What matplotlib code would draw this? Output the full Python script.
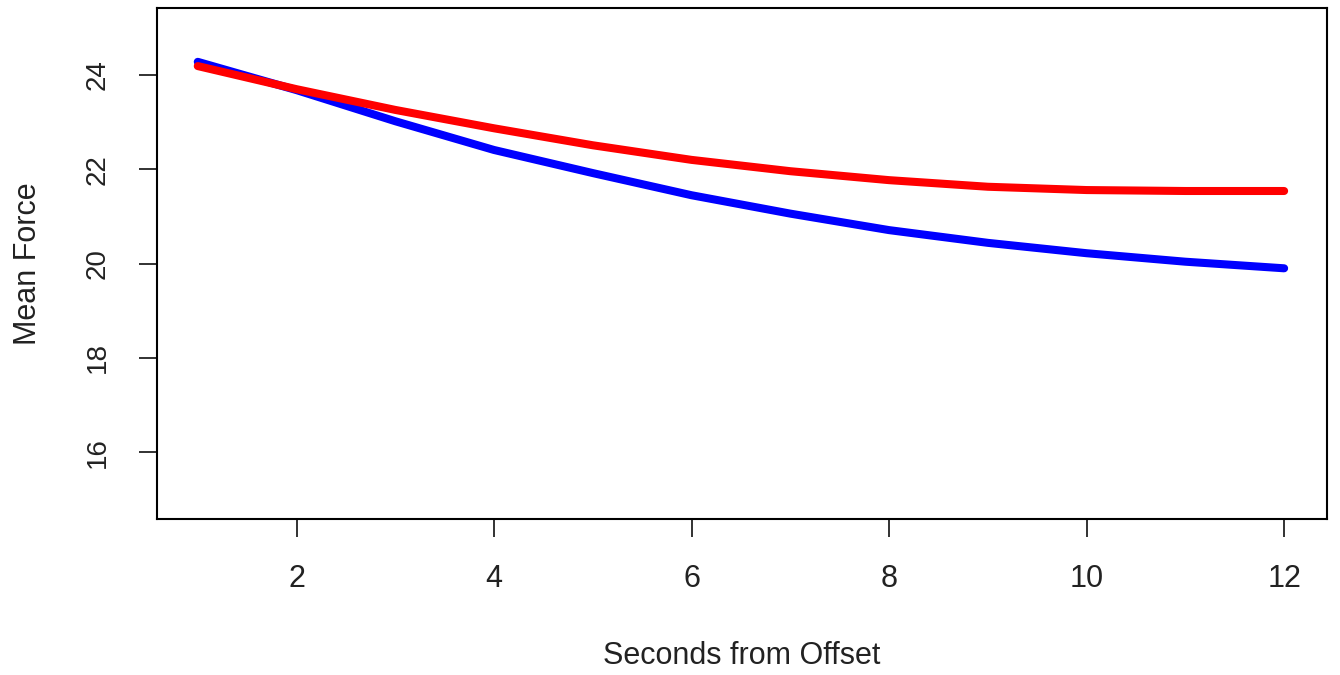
import matplotlib
matplotlib.use("Agg")
import matplotlib.pyplot as plt

# mean force per second after offset, two conditions
seconds = [1, 2, 3, 4, 5, 6, 7, 8, 9, 10, 11, 12]
force_blue = [24.28, 23.68, 23.02, 22.41, 21.92, 21.45, 21.06, 20.71, 20.44, 20.22, 20.04, 19.90]
force_red = [24.19, 23.70, 23.26, 22.87, 22.51, 22.20, 21.96, 21.77, 21.63, 21.56, 21.54, 21.54]
x_ticks = [2, 4, 6, 8, 10, 12]
y_ticks = [16, 18, 20, 22, 24]

plt.rcParams['font.family'] = ['Liberation Sans', 'DejaVu Sans']

fig = plt.figure(figsize=(13.4, 6.75), dpi=100)
ax = fig.add_axes([0.117, 0.231, 0.873, 0.757])

ax.plot(seconds, force_blue, color="#0000FF", linewidth=5.8, solid_capstyle='round')
ax.plot(seconds, force_red, color="#FF0000", linewidth=5.8, solid_capstyle='round')

ax.set_xlim(0.585, 12.43)
ax.set_ylim(14.58, 25.42)
ax.set_xticks(x_ticks)
ax.set_yticks(y_ticks)
ax.set_yticklabels([str(v) for v in y_ticks], rotation=90, va='center')

for s in ax.spines.values():
    s.set_linewidth(1.5)
ax.tick_params(axis='both', length=13, width=1.3, color='#222222', labelcolor='#222222')
ax.tick_params(axis='x', pad=19, labelsize=22)
ax.tick_params(axis='y', pad=20, labelsize=20)

ax.set_xlabel("Seconds from Offset", fontsize=22, color='#222222', labelpad=34)
ax.set_ylabel("Mean Force", fontsize=22, color='#222222', labelpad=30)

fig.savefig("out.png", dpi=100)
